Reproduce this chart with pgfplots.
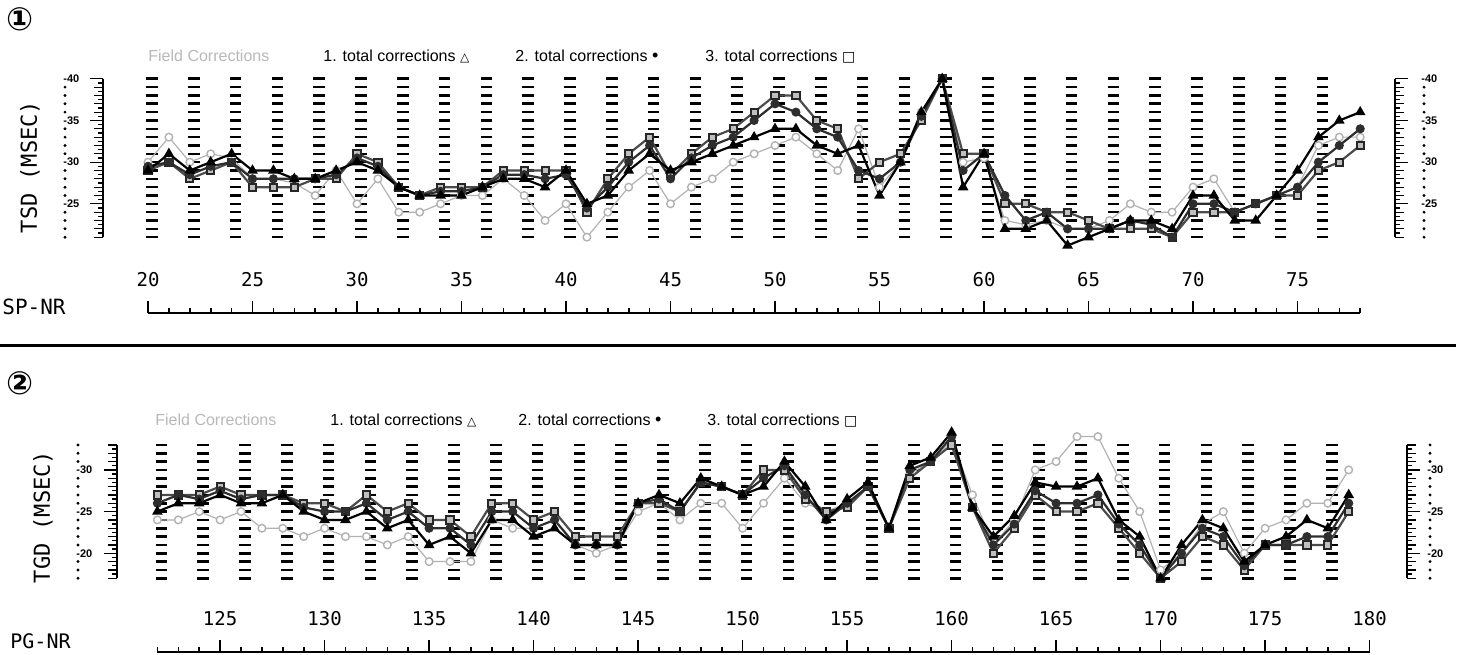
\documentclass[border=0pt]{standalone}
\usepackage{fontspec}
\setmainfont{Liberation Sans}
\newfontfamily\monofont{DejaVu Sans Mono}
\newfontfamily\symfont{DejaVu Sans}
\usepackage{pgfplots}
\pgfplotsset{compat=1.18}
\usepackage{pgfplotstable}

\pgfplotstableread{
x F T1 T2 T3
20 30 29 29.5 29
21 33 31 30 30
22 30 29 28.5 28
23 31 30 29.5 29
24 30.5 31 30 30
25 28 29 28 27
26 28 29 28 27
27 27.5 28 28 27
28 26 28 28 28
29 29 29 28.5 28
30 25 30 30.5 31
31 28 29 29.5 30
32 24 27 27 27
33 24 26 26 26
34 25 26 26.5 27
35 26 26 26.5 27
36 26 27 27 27
37 28 28 28.5 29
38 26 28 28.5 29
39 23 27 28 29
40 25 29 28.5 29
41 21 25 24.5 24
42 24 26 27 28
43 27 29 30 31
44 29 31 32 33
45 25 29 28 28.5
46 27 30 30.5 31
47 28 31 32 33
48 30 32 33 34
49 31 33 35 36
50 32 34 37 38
51 33 34 36 38
52 31 32 34 35
53 29 31 33 34
54 34 32 29 28
55 27 26 28 30
56 30 30 30 31
57 36 36 35.5 35
58 40 40 40 40
59 30 27 29 31
60 30.5 31 31 31
61 23 22 26 25
62 22.5 22 23 25
63 23 23 24 24
64 22 20 22 24
65 22 21 22 23
66 23 22 22 22
67 25 23 23 22
68 24 23 22.5 22
69 24 22 21 21
70 27 26 25 24
71 28 26 25 24
72 24 23 24 24
73 25 23 25 25
74 26 26 26 26
75 27 29 27 26
76 32 33 30 29
77 33 35 32 30
78 33 36 34 32
}\topdata

\pgfplotstableread{
x F T1 T2 T3
122 24 25 26 27
123 24 26 27 27
124 25 26 26.5 27
125 24 27 27.5 28
126 25 26 26.5 27
127 23 26 27 27
128 23 27 27 27
129 22 25 25.5 26
130 23 24 25 26
131 22 24 25 25
132 22 25 26 27
133 21 23 24 25
134 22 24 25 26
135 19 21 23 24
136 19 22 23 24
137 19 20 21 22
138 24 24 25 26
139 23 24 25 26
140 23 22 23 24
141 24 23 24 25
142 21 21 21 22
143 20 21 21 22
144 21 21 21 22
145 25 26 26 26
146 26 27 26.5 26
147 24 26 25 25
148 26 29 28.5 28.5
149 26 28 28 28
150 23 27 27 27
151 26 28 29 30
152 29 31 30.5 30
153 26 28 27 26.5
154 25 24 24 25
155 26 26.5 26 25.5
156 28 28.5 28 28
157 23 23 23 23
158 29.5 30.5 30 29
159 31 31.5 31 31
160 33.5 34.5 34 33
161 27 25.5 25.5 25.5
162 21 22 21 20
163 24 24.5 23.5 23
164 30 28.5 27.5 27
165 31 28 26 25
166 34 28 26 25
167 34 29 27 26
168 29 24 23.5 23
169 25 22 21 20
170 18 17 17 17
171 20 21 20 19
172 23.5 24 23 22
173 25 23 22 21
174 20 19 18.5 18
175 23 21 21 21
176 24 22 21 21
177 26 24 22 21
178 26 23 22 21
179 30 27 26 25
}\botdata

\pgfplotsset{
  panel/.style={x=10.45pt, y=4.167pt, anchor=south west,
    axis x line=bottom, axis y line=none, ytick=\empty,
    axis line style={-, line width=1pt}, clip=false,
    tick align=inside, major tick length=6pt, minor tick length=2.6pt,
    every tick/.style={black, line width=0.8pt},
    xticklabel style={anchor=center, yshift=16.5pt, font=\monofont\fontsize{9.5}{10}\selectfont},
    /pgf/number format/assume math mode=true},
  fieldc/.style={black!30, line width=0.6pt, mark=*, mark size=1.9pt, mark options={fill=white, draw=black!30, line width=0.7pt}},
  tone/.style={black, line width=1.1pt, mark=triangle*, mark size=2pt},
  ttwo/.style={black!82, line width=1.1pt, mark=*, mark size=1.7pt},
  tthree/.style={black!70, line width=1.1pt, mark=square*, mark size=1.8pt, mark options={fill=black!25, draw=black!85, line width=1pt}},
}
\tikzset{dashcol/.style={line width=5.8pt, dash pattern=on 1.3pt off 2.867pt, black}}

\newcommand\lab{\fontsize{5.5}{6}\bfseries}

\begin{document}
\begin{tikzpicture}
\path[use as bounding box] (0,0) rectangle (730pt,327pt);

\begin{scope}[x=0.5pt, y=-0.5pt, shift={(0pt,327pt)}]
  % circled numbers
  \node at (20,19) {\symfont\bfseries\fontsize{16}{17}\selectfont ①};
  \node at (20,383) {\symfont\bfseries\fontsize{16}{17}\selectfont ②};
  % separator
  \draw[line width=1.5pt] (0,345) -- (1456,345);
  % legends
  \begin{scope}[every node/.style={anchor=base west, inner sep=0, font=\fontsize{8}{9}\selectfont}]
    \node[text=black!28] at (148,62) {Field Corrections};
    \node at (323,62) {1. total corrections {\symfont\fontsize{6}{7}\selectfont △}};
    \node at (515,62) {2. total corrections {\fontsize{9}{9}\selectfont •}};
    \node at (705,62) {3. total corrections {\symfont\fontsize{7}{7}\selectfont □}};
    \node[text=black!28] at (155,425) {Field Corrections};
    \node at (330,425) {1. total corrections {\symfont\fontsize{6}{7}\selectfont △}};
    \node at (518,425) {2. total corrections {\fontsize{9}{9}\selectfont •}};
    \node at (707,425) {3. total corrections {\symfont\fontsize{7}{7}\selectfont □}};
  \end{scope}
  % axis titles
  \node[rotate=90, font=\monofont\fontsize{11}{12}\selectfont] at (30,167) {TSD (MSEC)};
  \node[rotate=90, font=\monofont\fontsize{11}{12}\selectfont] at (43,517) {TGD (MSEC)};
  \node[anchor=base west, inner sep=0, font=\monofont\fontsize{10.5}{12}\selectfont] at (2,314) {SP-NR};
  \node[anchor=base west, inner sep=0, font=\monofont\fontsize{10}{11}\selectfont] at (10,648) {PG-NR};
  % dashed columns
  \foreach \k in {0,...,28} {
    \draw[dashcol] ({152+41.8*\k},77.5) -- ({152+41.8*\k},238.6);
    \draw[dashcol] ({161.4+41.8*\k},443.6) -- ({161.4+41.8*\k},579.6);
  }
  % top scales
  \draw[line width=0.8pt] (103,{313-8.334*(21-11.9)}) -- (103,{313-8.334*(40-11.9)});
  \draw[line width=0.8pt] (1395,{313-8.334*(21-11.9)}) -- (1395,{313-8.334*(40-11.9)});
  \foreach \v in {21.5,22.5,...,39.5} {
    \draw[line width=0.6pt] (103,{313-8.334*(\v-11.9)}) -- ++(-5,0);
    \draw[line width=0.6pt] (1395,{313-8.334*(\v-11.9)}) -- ++(5,0);}
  \foreach \v in {21,...,40} {
    \draw[line width=0.6pt] (103,{313-8.334*(\v-11.9)}) -- ++(-9,0);
    \draw[line width=0.6pt] (1395,{313-8.334*(\v-11.9)}) -- ++(9,0);}
  \foreach \v in {21,22,23,24,26,27,28,29,31,32,33,34,36,37,38,39} {
    \fill (65,{313-8.334*(\v-11.9)}) circle (0.8pt);
    \fill (1424,{313-8.334*(\v-11.9)}) circle (0.8pt);}
  \foreach \v in {25,30,35,40} {
    \draw[line width=0.6pt] (103,{313-8.334*(\v-11.9)}) -- ++(-13,0);
    \draw[line width=0.6pt] (1395,{313-8.334*(\v-11.9)}) -- ++(13,0);
    \node[anchor=west, inner sep=0] at (63,{313-8.334*(\v-11.9)}) {\lab -\v};
    \node[anchor=west, inner sep=0] at (1421,{313-8.334*(\v-11.9)}) {\lab -\v};}
  % bottom scales
  \draw[line width=0.8pt] (117,{652-8.334*(17-8.15)}) -- (117,{652-8.334*(33-8.15)});
  \draw[line width=0.8pt] (1407,{652-8.334*(17-8.15)}) -- (1407,{652-8.334*(33-8.15)});
  \foreach \v in {17.5,18.5,...,32.5} {
    \draw[line width=0.6pt] (117,{652-8.334*(\v-8.15)}) -- ++(-5,0);
    \draw[line width=0.6pt] (1407,{652-8.334*(\v-8.15)}) -- ++(5,0);}
  \foreach \v in {17,...,33} {
    \draw[line width=0.6pt] (117,{652-8.334*(\v-8.15)}) -- ++(-9,0);
    \draw[line width=0.6pt] (1407,{652-8.334*(\v-8.15)}) -- ++(9,0);}
  \foreach \v in {17,18,19,21,22,23,24,26,27,28,29,31,32,33} {
    \fill (78,{652-8.334*(\v-8.15)}) circle (0.8pt);
    \fill (1430,{652-8.334*(\v-8.15)}) circle (0.8pt);}
  \foreach \v in {20,25,30} {
    \draw[line width=0.6pt] (117,{652-8.334*(\v-8.15)}) -- ++(-13,0);
    \draw[line width=0.6pt] (1407,{652-8.334*(\v-8.15)}) -- ++(13,0);
    \node[anchor=west, inner sep=0] at (76,{652-8.334*(\v-8.15)}) {\lab -\v};
    \node[anchor=west, inner sep=0] at (1427,{652-8.334*(\v-8.15)}) {\lab -\v};}
\end{scope}

% top panel
\begin{axis}[panel, at={(74pt,170.5pt)}, xmin=20, xmax=78, ymin=11.9, ymax=41,
  xtick={20,25,...,75}, minor xtick={21,...,78}]
  \addplot[fieldc] table[x=x, y=F] {\topdata};
  \addplot[tthree] table[x=x, y=T3] {\topdata};
  \addplot[ttwo] table[x=x, y=T2] {\topdata};
  \addplot[tone] table[x=x, y=T1] {\topdata};
\end{axis}

% bottom panel
\begin{axis}[panel, at={(78.7pt,1pt)}, xmin=122, xmax=180, ymin=8.15, ymax=34,
  xtick={125,130,...,180}, minor xtick={122,...,180}]
  \addplot[fieldc] table[x=x, y=F] {\botdata};
  \addplot[tthree] table[x=x, y=T3] {\botdata};
  \addplot[ttwo] table[x=x, y=T2] {\botdata};
  \addplot[tone] table[x=x, y=T1] {\botdata};
\end{axis}
\end{tikzpicture}
\end{document}
